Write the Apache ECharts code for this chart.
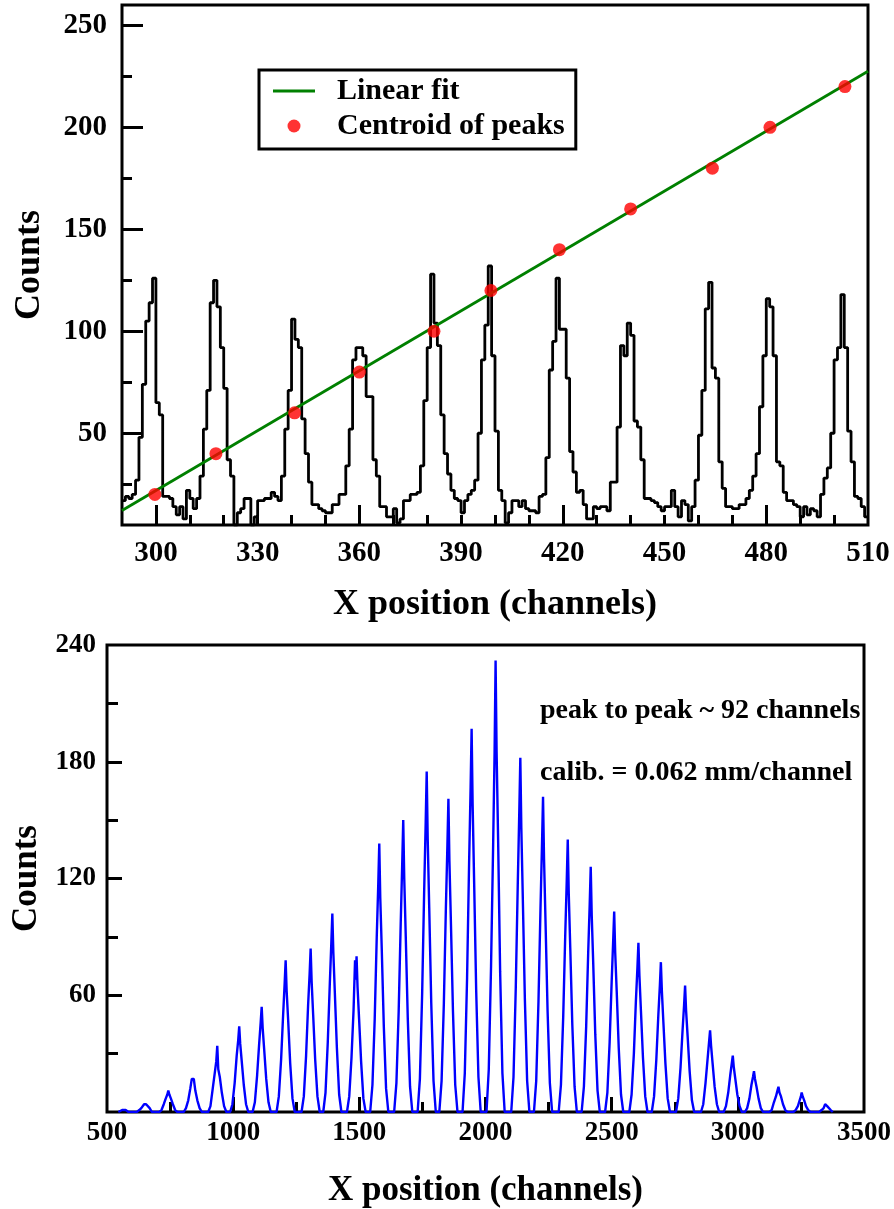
<!DOCTYPE html>
<html><head><meta charset="utf-8">
<script src="https://cdn.jsdelivr.net/npm/echarts@6/dist/echarts.min.js"></script>
<style>html,body{margin:0;padding:0;background:#fff}#c{width:894px;height:1209px}</style>
</head><body><div id="c"></div>
<script>
// ---------- top panel data ----------
const topFirstChannel = 290;
const topCounts = [
  17,19,18,20,27,48,74,105,114,126,
  65,59,19,19,18,14,10,14,8,22,
  18,13,18,29,52,71,114,125,112,92,
  72,37,29,5,11,13,18,18,5,9,
  17,17,18,18,21,19,17,29,52,71,
  106,96,92,57,40,26,15,15,13,12,
  11,11,15,15,20,20,34,52,86,92,
  92,88,68,68,37,29,14,14,9,9,
  13,6,8,17,17,20,20,21,34,66,
  92,128,104,93,59,40,30,22,18,17,
  11,17,20,22,27,50,86,103,132,88,
  51,22,17,6,11,17,17,14,17,13,
  12,12,11,19,20,38,81,95,126,101,
  101,77,41,31,21,22,15,8,8,14,
  13,14,14,12,26,26,53,93,88,104,
  98,56,53,37,18,18,17,16,14,12,
  14,14,22,14,9,17,15,7,14,27,
  49,71,111,124,82,77,36,23,14,14,
  13,13,15,15,18,22,29,40,63,88,
  116,112,88,36,34,21,17,17,15,14,
  9,14,10,13,12,9,20,28,33,50,
  86,92,118,92,51,36,19,18,14,9
];
const centroidX = [299.7, 317.7, 340.9, 360.0, 382.0, 398.8, 419.0, 440.0, 464.1, 481.1, 503.2];
const centroidY = [20, 40, 60, 80, 100, 120, 140, 160, 180, 200, 220];
const fitX = [290, 510];
const fitY = [12.1, 227.5];
const topXLabels = [300, 330, 360, 390, 420, 450, 480, 510];
const topXMajorTicks = [300, 360, 420, 480];
const topXMinorTicks = [310, 320, 330, 340, 350, 370, 380, 390, 400, 410, 430, 440, 450, 460, 470, 490, 500];
const topYLabels = [50, 100, 150, 200, 250];
const topYMinorTicks = [25, 75, 125, 175, 225];

// ---------- bottom panel data ----------
const spectrum = [
  [545,0],[560,1],[567,2],[574,1],[585,0],
  [618,0],[628,1],[636,2],[643,3],[647,4],[651,5],[655,4],[661,3],[669,2],[678,0],
  [707,0],[716,1],[725,4],[733,7],[739,9],[743,11],[747,9],[753,7],[761,4],[770,1],[779,0],
  [804,0],[813,2],[822,6],[830,12],[836,17],[840,18],[844,17],[850,11],[858,6],[867,2],[876,0],
  [901,0],[910,3],[919,12],[927,20],[933,26],[937,34],[941,22],[947,18],[955,10],[964,3],[973,0],
  [988,0],[997,4],[1006,15],[1014,29],[1020,37],[1024,44],[1028,35],[1034,26],[1042,14],[1051,4],[1060,0],
  [1077,0],[1086,5],[1095,19],[1103,35],[1109,46],[1113,54],[1117,43],[1123,32],[1131,17],[1140,5],[1149,0],
  [1172,0],[1181,8],[1190,27],[1198,50],[1204,66],[1208,78],[1212,62],[1218,47],[1226,25],[1235,7],[1244,0],
  [1271,0],[1280,8],[1289,29],[1297,55],[1303,71],[1307,84],[1311,67],[1317,50],[1325,27],[1334,8],[1343,0],
  [1357,0],[1366,10],[1375,36],[1383,66],[1389,87],[1393,102],[1397,82],[1403,61],[1411,33],[1420,9],[1429,0],
  [1451,0],[1460,8],[1469,28],[1477,52],[1483,78],[1486,68],[1489,80],[1493,64],[1499,48],[1507,26],[1516,7],[1525,0],
  [1543,0],[1552,14],[1561,48],[1569,90],[1575,117],[1579,138],[1583,110],[1589,83],[1597,44],[1606,12],[1615,0],
  [1638,0],[1647,15],[1656,52],[1664,97],[1670,128],[1674,150],[1678,120],[1684,90],[1692,48],[1701,13],[1710,0],
  [1731,0],[1740,17],[1749,61],[1757,114],[1763,149],[1767,175],[1771,140],[1777,105],[1785,56],[1794,16],[1803,0],
  [1817,0],[1826,16],[1835,56],[1843,105],[1849,137],[1853,161],[1857,129],[1863,97],[1871,52],[1880,14],[1889,0],
  [1909,0],[1918,20],[1927,69],[1935,128],[1941,167],[1945,197],[1949,158],[1955,118],[1963,63],[1972,18],[1981,0],
  [2004,0],[2013,22],[2022,75],[2030,135],[2036,185],[2040,232],[2044,185],[2050,140],[2058,72],[2067,20],[2076,0],
  [2102,0],[2111,18],[2120,64],[2128,118],[2134,155],[2138,182],[2142,146],[2148,109],[2156,58],[2165,16],[2174,0],
  [2192,0],[2201,16],[2210,57],[2218,105],[2224,138],[2228,162],[2232,130],[2238,97],[2246,52],[2255,15],[2264,0],
  [2290,0],[2299,14],[2308,49],[2316,91],[2322,119],[2326,140],[2330,112],[2336,84],[2344,45],[2353,13],[2362,0],
  [2381,0],[2390,13],[2399,44],[2407,82],[2413,107],[2417,126],[2421,101],[2427,76],[2435,40],[2444,11],[2453,0],
  [2474,0],[2483,10],[2492,36],[2500,67],[2506,88],[2510,103],[2514,82],[2520,62],[2528,33],[2537,9],[2546,0],
  [2570,0],[2579,9],[2588,30],[2596,57],[2602,74],[2606,87],[2610,70],[2616,52],[2624,28],[2633,8],[2642,0],
  [2659,0],[2668,8],[2677,27],[2685,50],[2691,65],[2695,77],[2699,62],[2705,46],[2713,25],[2722,7],[2731,0],
  [2755,0],[2764,7],[2773,23],[2781,42],[2787,55],[2791,65],[2795,52],[2801,39],[2809,21],[2818,6],[2827,0],
  [2854,0],[2863,4],[2872,15],[2880,27],[2886,36],[2890,42],[2894,34],[2900,25],[2908,13],[2917,4],[2926,0],
  [2944,0],[2953,3],[2962,10],[2970,19],[2976,25],[2980,29],[2984,23],[2990,17],[2998,9],[3007,3],[3016,0],
  [3028,0],[3037,2],[3046,7],[3054,14],[3060,18],[3064,21],[3068,17],[3074,13],[3082,7],[3091,2],[3100,0],
  [3125,0],[3134,1],[3143,5],[3151,8],[3157,11],[3161,13],[3165,10],[3171,8],[3179,4],[3188,1],[3197,0],
  [3220,0],[3229,1],[3238,3],[3245,6],[3250,8],[3253,10],[3257,8],[3263,6],[3270,3],[3279,1],[3288,0],
  [3322,0],[3332,1],[3340,2],[3346,4],[3350,5],[3354,3],[3360,2],[3368,1],[3376,0]
];
const bottomXLabels = [500, 1000, 1500, 2000, 2500, 3000, 3500];
const bottomXMajorTicks = [1000, 1500, 2000, 2500, 3000];
const bottomXMinorTicks = [750, 1250, 1750, 2250, 2750, 3250];
const bottomYLabels = [60, 120, 180, 240];
const bottomYMajorTicks = [60, 120, 180];
const bottomYMinorTicks = [30, 90, 150, 210];
const noteLines = ['peak to peak ~ 92 channels', 'calib. = 0.062 mm/channel'];

// ---------- chart ----------
const FONT = '"Liberation Serif", "Times New Roman", serif';
const histData = topCounts.map((v, i) => [topFirstChannel + i, v]);
histData.push([topFirstChannel + topCounts.length, topCounts[topCounts.length - 1]]);
const fitData = fitX.map((x, i) => [x, fitY[i]]);
const centroidData = centroidX.map((x, i) => [x, centroidY[i]]);

function tickAxis(gridIndex, position, min, max, ticks, len, extra) {
  return Object.assign({
    type: 'value', gridIndex, position, min, max,
    axisLine: { show: false },
    axisTick: { show: true, inside: true, length: len, customValues: ticks, lineStyle: { color: '#000', width: 3 } },
    axisLabel: { show: false },
    splitLine: { show: false }
  }, extra || {});
}
const labelStyle = (size, margin, values) => ({
  show: true, customValues: values, fontFamily: FONT, fontWeight: 'bold', fontSize: size, color: '#000', margin,
  formatter: (v) => String(v)
});
const nameStyle = (size) => ({ fontFamily: FONT, fontWeight: 'bold', fontSize: size, color: '#000' });

const chart = echarts.init(document.getElementById('c'), null, { renderer: 'canvas' });
chart.setOption({
  animation: false,
  backgroundColor: '#fff',
  grid: [
    { left: 122, top: 5, width: 746, height: 520, show: true, borderColor: '#000', borderWidth: 3, backgroundColor: 'transparent' },
    { left: 107, top: 645, width: 757, height: 467, show: true, borderColor: '#000', borderWidth: 3, backgroundColor: 'transparent' }
  ],
  xAxis: [
    tickAxis(0, 'bottom', 290, 510, topXMajorTicks, 20, {
      axisLabel: labelStyle(29, 14, topXLabels),
      name: 'X position (channels)', nameLocation: 'middle', nameGap: 62, nameTextStyle: nameStyle(36)
    }),
    tickAxis(0, 'bottom', 290, 510, topXMinorTicks, 10),
    tickAxis(1, 'bottom', 500, 3500, bottomXMajorTicks, 15, {
      axisLabel: labelStyle(27, 8, bottomXLabels),
      name: 'X position (channels)', nameLocation: 'middle', nameGap: 61, nameTextStyle: nameStyle(35)
    }),
    tickAxis(1, 'bottom', 500, 3500, bottomXMinorTicks, 10)
  ],
  yAxis: [
    tickAxis(0, 'left', 5, 260, topYLabels, 21, {
      axisLabel: labelStyle(29, 15, topYLabels),
      name: 'Counts', nameLocation: 'middle', nameGap: 74, nameTextStyle: nameStyle(36)
    }),
    tickAxis(0, 'left', 5, 260, topYMinorTicks, 10),
    tickAxis(1, 'left', 0, 240, bottomYMajorTicks, 15, {
      axisLabel: labelStyle(27, 11, bottomYLabels),
      name: 'Counts', nameLocation: 'middle', nameGap: 58, nameTextStyle: nameStyle(35)
    }),
    tickAxis(1, 'left', 0, 240, bottomYMinorTicks, 11)
  ],
  legend: {
    orient: 'vertical', left: 259, top: 70,
    selectedMode: false,
    itemWidth: 42, itemHeight: 13, itemGap: 5,
    padding: [6, 11, 8, 14],
    borderColor: '#000', borderWidth: 3, backgroundColor: '#fff',
    textStyle: { fontFamily: FONT, fontWeight: 'bold', fontSize: 30, color: '#000', padding: [0, 0, 0, 17] },
    data: [
      { name: 'Linear fit', icon: 'path://M0,0H42V3H0Z' },
      { name: 'Centroid of peaks', icon: 'circle' }
    ]
  },
  graphic: noteLines.map((t, i) => ({
    type: 'text', x: 540, y: 711 + i * 62,
    style: { text: t, font: 'bold 28px ' + FONT, fill: '#000', verticalAlign: 'middle' }
  })),
  series: [
    {
      name: 'Histogram', type: 'line', xAxisIndex: 0, yAxisIndex: 0, step: 'end',
      showSymbol: false, data: histData, z: 2,
      lineStyle: { color: '#000', width: 2.8 }, itemStyle: { color: '#000' }
    },
    {
      name: 'Linear fit', type: 'line', xAxisIndex: 0, yAxisIndex: 0,
      showSymbol: false, data: fitData, z: 3,
      lineStyle: { color: '#008000', width: 2.8 }, itemStyle: { color: '#008000' }
    },
    {
      name: 'Centroid of peaks', type: 'scatter', xAxisIndex: 0, yAxisIndex: 0,
      data: centroidData, symbolSize: 13, z: 4, itemStyle: { color: '#ff0000' }
    },
    {
      name: 'Spectrum', type: 'line', xAxisIndex: 2, yAxisIndex: 2,
      showSymbol: false, data: spectrum, z: 2,
      lineStyle: { color: '#0000ff', width: 2.4 }, itemStyle: { color: '#0000ff' }
    }
  ]
});
</script></body></html>
